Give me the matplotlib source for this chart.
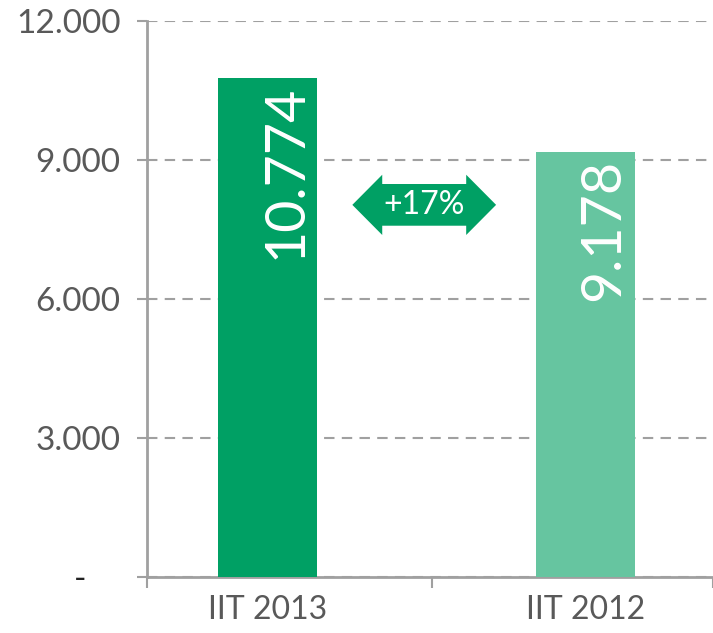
import matplotlib.pyplot as plt
from matplotlib.patches import Polygon

# dati
categories = ["IIT 2013", "IIT 2012"]
values = [10774, 9178]
value_labels = ["10.774", "9.178"]
bar_colors = ["#00A064", "#66C5A0"]
yticks = [0, 3000, 6000, 9000, 12000]
ytick_labels = ["-    ", "3.000", "6.000", "9.000", "12.000"]
delta_label = "+17%"

plt.rcParams['font.family'] = ['Lato', 'DejaVu Sans']
grey = "#A0A0A0"
txt = "#595959"

fig = plt.figure(figsize=(7.13, 6.33), dpi=100)
ax = fig.add_axes([0.206, 0.0885, 0.794, 0.8785])

x = list(range(len(categories)))
ax.bar(x, values, width=0.31, color=bar_colors, zorder=3)

# etichette valori dentro le barre
for xi, v, lab in zip(x, values, value_labels):
    ax.annotate(lab, (xi, v), xytext=(13, -5), textcoords="offset points",
                rotation=90, ha="center", va="top", color="white", fontsize=40, zorder=4)

ax.set_ylim(0, 12000)
ax.set_xlim(-0.38, 1.4)
ax.set_yticks(yticks)
ax.set_yticklabels(ytick_labels, fontsize=24, color=txt)
ax.get_yticklabels()[0].set_color("#222222")
ax.tick_params(axis="y", length=7, width=1.5, color=grey, pad=12)

ax.set_xticks(x)
ax.set_xticklabels(categories, fontsize=23, color=txt)
ax.set_xticks([-0.38, 0.515, 1.4], minor=True)
ax.tick_params(axis="x", which="major", length=0, pad=13)
ax.tick_params(axis="x", which="minor", length=8, width=1.5, color=grey)

ax.grid(axis="y", color=grey, linestyle=(0, (5, 3.5)), linewidth=1.5, zorder=0)
for s in ["top", "right"]:
    ax.spines[s].set_visible(False)
for s in ["left", "bottom"]:
    ax.spines[s].set_color(grey)
    ax.spines[s].set_linewidth(2)

# freccia doppia +17%
cx, cy = 0.492, 8030
half, head = 0.226, 0.094
bh, hh = 450, 650
pts = [(cx - half, cy), (cx - half + head, cy + hh), (cx - half + head, cy + bh),
       (cx + half - head, cy + bh), (cx + half - head, cy + hh), (cx + half, cy),
       (cx + half - head, cy - hh), (cx + half - head, cy - bh),
       (cx - half + head, cy - bh), (cx - half + head, cy - hh)]
ax.add_patch(Polygon(pts, closed=True, facecolor="#00A064", edgecolor="none", zorder=5))
ax.text(cx, cy, delta_label, ha="center", va="center", color="white", fontsize=23, zorder=6)

fig.savefig("out.png", dpi=100)
